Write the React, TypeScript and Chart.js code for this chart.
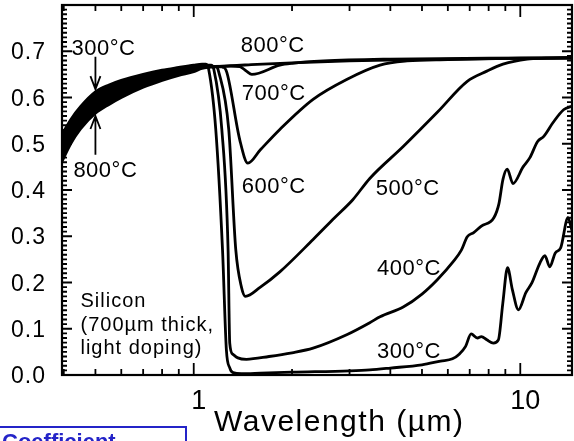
import React, { useEffect, useRef } from "react";
import { Chart, registerables } from "chart.js";

Chart.register(...registerables);

// Emissivity of a 700 µm silicon wafer vs. wavelength, one curve per temperature.
const wl300 = [0.395, 0.42, 0.45, 0.5, 0.55, 0.6, 0.7, 0.8, 0.9, 1.0, 1.06, 1.09, 1.111, 1.168, 1.225, 1.259, 1.29, 1.32, 1.4, 1.6, 2.0, 3.0, 3.46, 4.0, 5.0, 5.7, 6.2, 6.5, 6.8, 7.07, 7.39, 7.6, 7.9, 8.27, 8.57, 8.84, 9.14, 9.46, 9.87, 10.4, 10.85, 11.5, 11.9, 12.3, 12.8, 13.3, 14.0, 14.4];
const em300 = [0.520, 0.552, 0.580, 0.612, 0.627, 0.637, 0.650, 0.659, 0.665, 0.670, 0.672, 0.672, 0.661, 0.531, 0.271, 0.054, 0.015, 0.005, 0.003, 0.004, 0.006, 0.009, 0.011, 0.015, 0.022, 0.030, 0.035, 0.045, 0.062, 0.089, 0.080, 0.083, 0.076, 0.069, 0.076, 0.155, 0.232, 0.184, 0.141, 0.178, 0.199, 0.243, 0.258, 0.234, 0.264, 0.275, 0.340, 0.312];

const wl400 = [0.395, 0.42, 0.45, 0.5, 0.55, 0.6, 0.7, 0.8, 0.9, 1.0, 1.06, 1.13, 1.152, 1.219, 1.274, 1.289, 1.317, 1.365, 1.45, 1.7, 2.0, 2.32, 2.94, 3.46, 3.72, 4.38, 5.0, 5.57, 6.23, 6.6, 6.88, 7.2, 7.6, 8.3, 8.6, 8.85, 9.12, 9.5, 10.2, 10.7, 11.3, 11.8, 12.6, 13.6, 14.4];
const em400 = [0.508, 0.542, 0.570, 0.603, 0.619, 0.630, 0.644, 0.655, 0.662, 0.667, 0.670, 0.670, 0.661, 0.531, 0.271, 0.069, 0.045, 0.037, 0.034, 0.040, 0.048, 0.058, 0.087, 0.113, 0.126, 0.147, 0.175, 0.206, 0.245, 0.270, 0.299, 0.308, 0.322, 0.340, 0.370, 0.423, 0.445, 0.414, 0.450, 0.470, 0.505, 0.516, 0.546, 0.574, 0.581];

const wl500 = [0.395, 0.42, 0.45, 0.5, 0.55, 0.6, 0.7, 0.8, 0.9, 1.0, 1.06, 1.17, 1.193, 1.28, 1.345, 1.40, 1.44, 1.6, 1.835, 2.32, 2.7, 3.07, 3.46, 4.38, 5.57, 6.88, 7.9, 8.85, 10.5, 12.0, 14.4];
const em500 = [0.497, 0.531, 0.561, 0.594, 0.610, 0.622, 0.639, 0.650, 0.658, 0.664, 0.668, 0.667, 0.655, 0.531, 0.271, 0.190, 0.170, 0.190, 0.223, 0.293, 0.340, 0.379, 0.425, 0.494, 0.568, 0.635, 0.657, 0.672, 0.683, 0.685, 0.686];

const wl600 = [0.395, 0.42, 0.45, 0.5, 0.55, 0.6, 0.7, 0.8, 0.9, 1.0, 1.06, 1.22, 1.262, 1.384, 1.465, 1.6, 1.835, 2.32, 2.94, 3.72, 4.5, 6.0, 10.0, 14.4];
const em600 = [0.485, 0.521, 0.551, 0.584, 0.602, 0.615, 0.633, 0.646, 0.655, 0.662, 0.667, 0.666, 0.655, 0.508, 0.458, 0.487, 0.531, 0.596, 0.639, 0.670, 0.679, 0.682, 0.685, 0.686];

const wl700 = [0.395, 0.42, 0.45, 0.5, 0.55, 0.6, 0.7, 0.8, 0.9, 1.0, 1.06, 1.3, 1.384, 1.45, 1.506, 1.835, 2.0, 2.5, 4.0, 8.0, 14.4];
const em700 = [0.474, 0.510, 0.542, 0.575, 0.593, 0.607, 0.628, 0.641, 0.651, 0.659, 0.665, 0.668, 0.667, 0.657, 0.650, 0.670, 0.674, 0.679, 0.683, 0.685, 0.686];

const wl800 = [0.395, 0.42, 0.45, 0.5, 0.55, 0.6, 0.7, 0.8, 0.9, 1.0, 1.06, 1.2, 1.5, 2.0, 3.0, 5.0, 8.0, 14.4];
const em800 = [0.462, 0.500, 0.532, 0.566, 0.585, 0.600, 0.622, 0.637, 0.648, 0.656, 0.663, 0.667, 0.671, 0.675, 0.679, 0.682, 0.684, 0.685];

const temperatures = ["300°C", "400°C", "500°C", "600°C", "700°C", "800°C"];
const wavelengthSets = [wl300, wl400, wl500, wl600, wl700, wl800];
const emissivitySets = [em300, em400, em500, em600, em700, em800];

// Short-wavelength part where all curves overlap (first points of each series)
const BAND_POINTS = 11;

// Axis ticks
const yTickLabels = ["0.0", "0.1", "0.2", "0.3", "0.4", "0.5", "0.6", "0.7"];
const xMajorTicks = [1, 10];
const xTickLabels = ["1", "10"];
const xMinorTicks = [0.4, 0.5, 0.6, 0.7, 0.8, 0.9, 2, 3, 4, 5, 6, 7, 8, 9];

const X_MIN = 0.395;
const X_MAX = 14.4;
const Y_MIN = 0;
const Y_MAX = 0.8;

const FONT = "'Liberation Sans', Arial, Helvetica, sans-serif";

// Curve annotations, anchored at left/baseline in data coordinates
const curveNotes: { text: string; x: number; y: number }[] = [
  { text: "300°C", x: 0.4226, y: 0.692 },
  { text: "800°C", x: 0.428, y: 0.428 },
  { text: "800°C", x: 1.394, y: 0.698 },
  { text: "700°C", x: 1.404, y: 0.595 },
  { text: "600°C", x: 1.404, y: 0.3935 },
  { text: "500°C", x: 3.61, y: 0.389 },
  { text: "400°C", x: 3.64, y: 0.216 },
  { text: "300°C", x: 3.64, y: 0.0368 },
];
const sampleNotes: { text: string; x: number; y: number }[] = [
  { text: "Silicon", x: 0.45, y: 0.147 },
  { text: "(700µm thick,", x: 0.45, y: 0.0955 },
  { text: "light doping)", x: 0.45, y: 0.0455 },
];

function drawText(
  ctx: CanvasRenderingContext2D,
  s: string,
  x: number,
  y: number,
  font: string,
  align: CanvasTextAlign,
  spacing: number
) {
  ctx.save();
  ctx.font = font;
  (ctx as any).letterSpacing = spacing + "px";
  ctx.textAlign = align;
  ctx.textBaseline = "alphabetic";
  ctx.fillStyle = "#000";
  ctx.fillText(s, x, y);
  ctx.restore();
}

const decorations = {
  id: "frameAndText",
  afterDraw(chart: any) {
    const { ctx, chartArea, scales } = chart;
    const xs = scales.x;
    const ys = scales.y;
    const { left, right, top, bottom } = chartArea;

    ctx.save();
    ctx.strokeStyle = "#000";
    ctx.lineCap = "butt";

    // frame
    ctx.lineWidth = 2.2;
    ctx.strokeRect(left, top, right - left, bottom - top);

    // y ticks (inward, both sides)
    ctx.lineWidth = 1.8;
    for (let i = 0; i <= 80; i++) {
      const v = i / 100;
      const py = ys.getPixelForValue(v);
      const len = i % 10 === 0 ? 10 : 5;
      ctx.beginPath();
      ctx.moveTo(left, py);
      ctx.lineTo(left + len, py);
      ctx.moveTo(right, py);
      ctx.lineTo(right - len, py);
      ctx.stroke();
    }

    // x ticks (inward, top and bottom)
    const xTick = (v: number, len: number) => {
      const px = xs.getPixelForValue(v);
      ctx.beginPath();
      ctx.moveTo(px, bottom);
      ctx.lineTo(px, bottom - len);
      ctx.moveTo(px, top);
      ctx.lineTo(px, top + len);
      ctx.stroke();
    };
    xMinorTicks.forEach((v) => xTick(v, 6));
    xMajorTicks.forEach((v) => xTick(v, 12));

    // arrows pointing at the rising band
    const ax = xs.getPixelForValue(0.5);
    const arrow = (from: number, to: number) => {
      const y0 = ys.getPixelForValue(from);
      const y1 = ys.getPixelForValue(to);
      const dir = y1 > y0 ? 1 : -1;
      ctx.lineWidth = 1.8;
      ctx.beginPath();
      ctx.moveTo(ax, y0);
      ctx.lineTo(ax, y1);
      ctx.moveTo(ax - 5, y1 - dir * 13);
      ctx.lineTo(ax, y1);
      ctx.lineTo(ax + 5, y1 - dir * 13);
      ctx.stroke();
    };
    arrow(0.688, 0.618);
    arrow(0.476, 0.560);
    ctx.restore();

    // y tick labels
    yTickLabels.forEach((lab) => {
      const py = ys.getPixelForValue(parseFloat(lab));
      drawText(ctx, lab, 46, py + 8, `23px ${FONT}`, "right", 1);
    });

    // x tick labels
    xMajorTicks.forEach((v, i) => {
      const px = xs.getPixelForValue(v);
      drawText(ctx, xTickLabels[i], px + 5, 409, `27px ${FONT}`, "center", 0);
    });

    // axis title
    drawText(ctx, "Wavelength (µm)", 214, 431, `30px ${FONT}`, "left", 1.5);

    // curve labels
    curveNotes.forEach((n) => {
      drawText(ctx, n.text, xs.getPixelForValue(n.x), ys.getPixelForValue(n.y), `22px ${FONT}`, "left", 0.5);
    });
    sampleNotes.forEach((n) => {
      drawText(ctx, n.text, xs.getPixelForValue(n.x), ys.getPixelForValue(n.y), `20px ${FONT}`, "left", 1);
    });
  },
};

export default function App() {
  const ref = useRef<HTMLCanvasElement>(null);

  useEffect(() => {
    if (!ref.current) return;
    const curves: any[] = temperatures.map((t, i) => ({
      label: t,
      data: wavelengthSets[i].map((w, k) => ({ x: w, y: emissivitySets[i][k] })),
      borderColor: "#000",
      borderWidth: 2.8,
      pointRadius: 0,
      fill: false,
      cubicInterpolationMode: "monotone" as const,
    }));

    // solid band between the 300°C and 800°C curves where they overlap
    const bandTop = {
      label: "band top",
      data: wl300.slice(0, BAND_POINTS).map((w, k) => ({ x: w, y: em300[k] })),
      borderWidth: 0,
      borderColor: "rgba(0,0,0,0)",
      pointRadius: 0,
      fill: false,
      cubicInterpolationMode: "monotone" as const,
    };
    const bandBottom = {
      label: "band bottom",
      data: wl800.slice(0, BAND_POINTS).map((w, k) => ({ x: w, y: em800[k] })),
      borderWidth: 0,
      borderColor: "rgba(0,0,0,0)",
      backgroundColor: "#000",
      pointRadius: 0,
      fill: "-1",
      cubicInterpolationMode: "monotone" as const,
    };

    const chart = new Chart(ref.current, {
      type: "line",
      data: { datasets: [...curves, bandTop, bandBottom] },
      options: {
        responsive: false,
        animation: false,
        layout: { padding: { left: 62, right: 2, top: 5, bottom: 66 } },
        plugins: { legend: { display: false }, tooltip: { enabled: false } },
        scales: {
          x: { type: "logarithmic", min: X_MIN, max: X_MAX, display: false },
          y: { type: "linear", min: Y_MIN, max: Y_MAX, display: false },
        },
      },
      plugins: [decorations],
    });
    return () => chart.destroy();
  }, []);

  return (
    <div
      style={{
        position: "fixed",
        left: 0,
        top: 0,
        width: 574,
        height: 441,
        background: "#fff",
        overflow: "hidden",
      }}
    >
      <canvas ref={ref} width={574} height={441} style={{ display: "block" }} />
      <div
        style={{
          position: "absolute",
          left: -2,
          top: 426,
          width: 189,
          height: 40,
          border: "2px solid #2424c8",
          boxSizing: "border-box",
        }}
      >
        <span
          style={{
            position: "absolute",
            left: 2,
            top: 3,
            font: `bold 22px ${FONT}`,
            lineHeight: "22px",
            color: "#2424c8",
            whiteSpace: "nowrap",
          }}
        >
          Coefficient
        </span>
      </div>
    </div>
  );
}
